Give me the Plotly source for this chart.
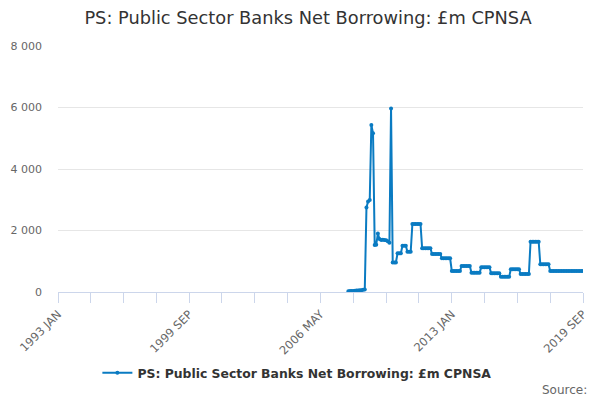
import pandas as pd
import plotly.graph_objects as go

# monthly values, 2007 OCT .. 2019 SEP
start_month = "2007-10-01"
values = [
    25, 30, 30,                                                          # 2007 OCT-DEC
    35, 40, 45, 50, 55, 60, 70, 80, 2750, 2940, 2990, 5430,              # 2008
    5160, 1530, 1540, 1900, 1720, 1690, 1700, 1690, 1680, 1650, 1600, 5970,  # 2009
    960, 960, 960, 1258, 1258, 1258, 1506, 1506, 1506, 1310, 1310, 1310,  # 2010
    2211, 2211, 2211, 2211, 2211, 2211, 1420, 1420, 1420, 1420, 1420, 1420,  # 2011
    1236, 1236, 1236, 1236, 1236, 1236, 1095, 1095, 1095, 1095, 1095, 1095,  # 2012
    683, 683, 683, 683, 683, 683, 846, 846, 846, 846, 846, 846,          # 2013
    629, 629, 629, 629, 629, 629, 802, 802, 802, 802, 802, 802,          # 2014
    607, 607, 607, 607, 607, 607, 499, 499, 499, 499, 499, 499,          # 2015
    737, 737, 737, 737, 737, 737, 585, 585, 585, 585, 585, 585,          # 2016
    1637, 1637, 1637, 1637, 1637, 1637, 900, 900, 900, 900, 900, 900,    # 2017
    683, 683, 683, 683, 683, 683, 683, 683, 683, 683, 683, 683,          # 2018
    683, 683, 683, 683, 683, 683, 683, 683, 683,                         # 2019 JAN-SEP
]
series_name = "PS: Public Sector Banks Net Borrowing: £m CPNSA"
tick_dates = pd.date_range("1993-01-01", "2019-09-01", freq="20MS")
tick_labels = ["1993 JAN", "1999 SEP", "2006 MAY", "2013 JAN", "2019 SEP"]

dates = pd.date_range(start_month, periods=len(values), freq="MS")
ticktext = [d.strftime("%Y %b").upper() if d.strftime("%Y %b").upper() in tick_labels else ""
            for d in tick_dates]

blue = "#0a7bc2"
fig = go.Figure()
fig.add_trace(go.Scatter(x=dates, y=values, name=series_name, mode="lines+markers",
                         line=dict(color=blue, width=2),
                         marker=dict(color=blue, size=4)))

# page body has an 8px offset, margins compensate for it
fig.update_layout(
    width=600, height=400,
    margin=dict(l=50, r=25, t=38, b=116),
    paper_bgcolor="white", plot_bgcolor="white",
    separators=". ",
    font=dict(family="DejaVu Sans", color="#666666", size=11),
    title=dict(text=series_name, x=0.5, xanchor="center", y=0.975, yanchor="middle",
               font=dict(size=17.8, color="#333333")),
    showlegend=True,
    legend=dict(orientation="h", x=0.455, xanchor="center", y=-0.33, yanchor="middle",
                itemwidth=30,
                font=dict(size=12.4, color="#333333", weight="bold")),
)
fig.update_xaxes(
    type="date", range=["1993-01-01", "2019-09-01"], automargin=False,
    tickmode="array", tickvals=tick_dates, ticktext=ticktext,
    tickangle=-45, ticks="outside", ticklen=10, tickcolor="#ccd6eb",
    tickfont=dict(size=11.5),
    showline=True, linecolor="#ccd6eb", linewidth=1, showgrid=False, zeroline=False,
)
fig.update_yaxes(
    range=[0, 8000], dtick=2000, tickformat=",d", automargin=False,
    showgrid=True, gridcolor="#e6e6e6", zeroline=False, showline=False,
    ticks="", ticklabelstandoff=15,
)
fig.add_annotation(text="Source:", xref="paper", yref="paper", x=1.012, y=-0.398,
                   xanchor="right", yanchor="middle", showarrow=False,
                   font=dict(size=12, color="#666666"))

fig.write_html("out.html")
